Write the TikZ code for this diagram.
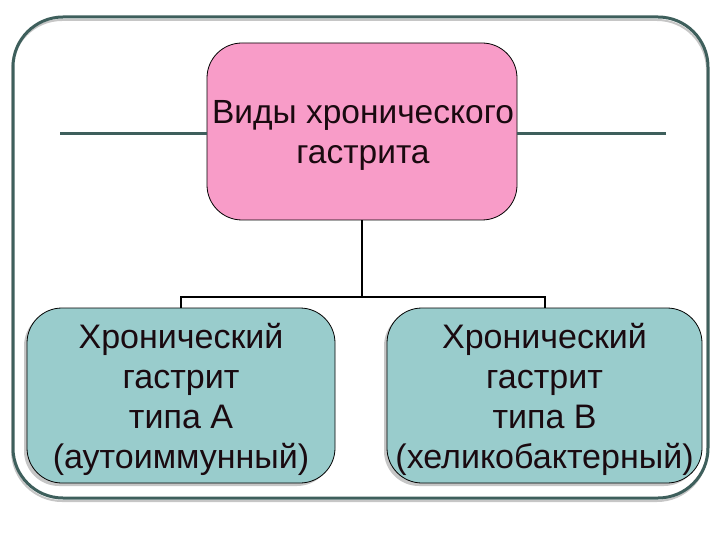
\documentclass[tikz,border=0pt]{standalone}
\usepackage{fontspec}
\setmainfont{Liberation Sans}
\definecolor{framecol}{HTML}{3E5F5C}
\definecolor{pinkfill}{HTML}{F89CC8}
\definecolor{tealfill}{HTML}{99CCCC}
\definecolor{txtcol}{HTML}{1A0A10}
\begin{document}
\begin{tikzpicture}[x=1pt,y=-1pt,
  framestyle/.style={draw=framecol,line width=3pt},
  deco/.style={draw=framecol,line width=3pt},
  link/.style={draw=black,line width=2pt},
  titlebox/.style={draw=black,line width=0.8pt,fill=pinkfill,rounded corners=35pt,
    minimum width=310pt,minimum height=177pt,inner sep=0pt,align=center,
    text=txtcol,font=\fontsize{33.5}{40}\selectfont},
  typebox/.style={draw=black,line width=0.8pt,fill=tealfill,rounded corners=35pt,
    minimum height=175pt,inner sep=0pt,align=center,
    text=txtcol,font=\fontsize{34}{40}\selectfont},
  boxshadow/.style={fill=gray!45,rounded corners=35pt}]
\useasboundingbox (0,0) rectangle (720,540);
% outer frame with soft shadow
\draw[gray!45,line width=2pt,rounded corners=50pt] (12,20) rectangle (707,501);
\draw[framestyle,rounded corners=50pt] (13,17) rectangle (708,498);
% decorative horizontal lines
\coordinate (hl) at (60,134);
\coordinate (hr) at (666,134);
% box shadows
\fill[boxshadow] (24,311) rectangle (332,486);
\fill[boxshadow] (384,311) rectangle (699,486);
% boxes
\node[titlebox] (top) at (362,131.5) {};
\node[typebox,minimum width=308pt] (left) at (181,395.5) {};
\node[typebox,minimum width=315pt] (right) at (544.5,395.5) {};
\node[align=center,text=txtcol,font=\fontsize{33.5}{40}\selectfont,inner sep=0pt]
  (toptext) at (363,135) {Виды хронического\\гастрита};
\node[align=center,text=txtcol,font=\fontsize{34}{40}\selectfont,inner sep=0pt]
  (lefttext) at (181,399) {Хронический\\гастрит\\типа А\\(аутоиммунный)};
\node[align=center,text=txtcol,font=\fontsize{34}{40}\selectfont,inner sep=0pt]
  (righttext) at (544.5,399) {Хронический\\гастрит\\типа В\\(хеликобактерный)};
\draw[deco] (hl) -- (hl -| top.west);
\draw[deco] (hr) -- (hr -| top.east);
% connectors
\path (top.south) ++(0,77) coordinate (j);
\draw[link] (top.south) -- (j);
\draw[link] (left.north) |- (j) -| (right.north);
\end{tikzpicture}
\end{document}
